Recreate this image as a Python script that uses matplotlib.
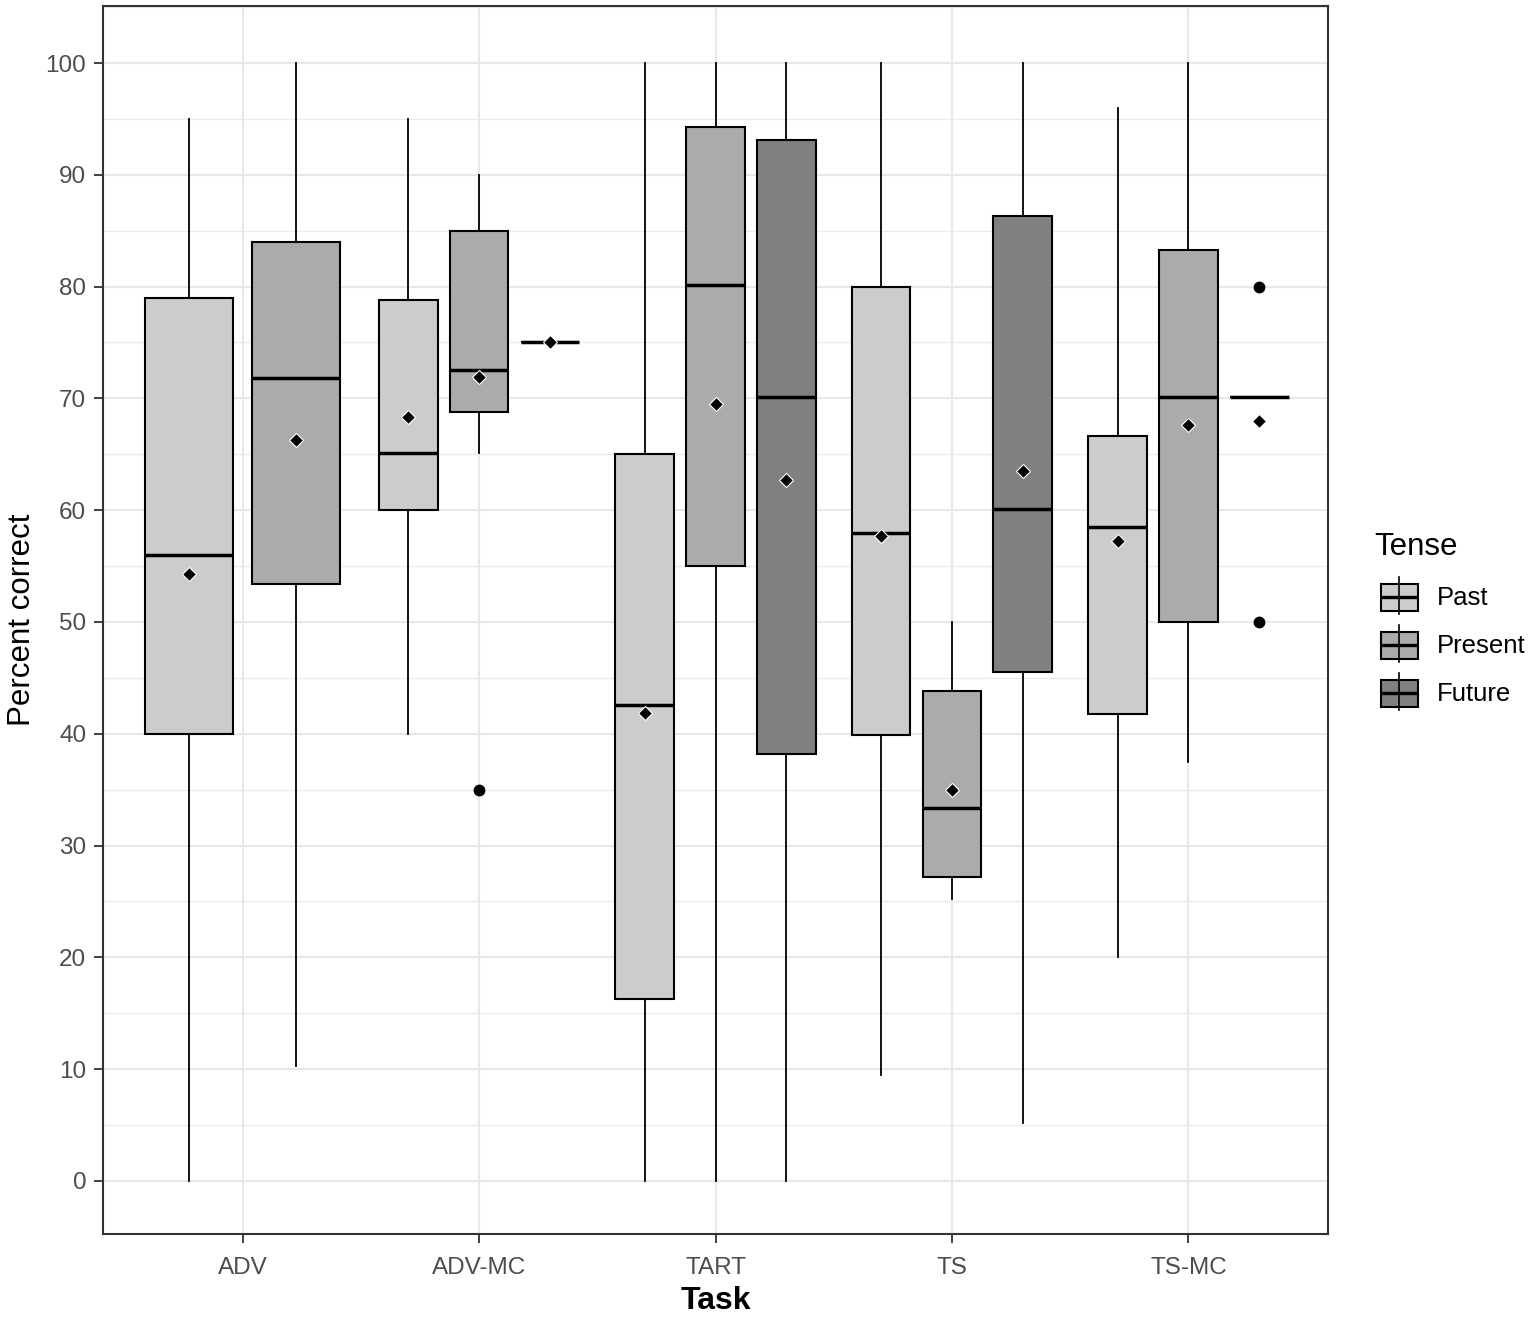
import matplotlib
matplotlib.use("Agg")
import matplotlib.pyplot as plt
from matplotlib.patches import Rectangle
from matplotlib.ticker import MultipleLocator

plt.rcParams['font.family'] = ['Liberation Sans', 'DejaVu Sans']

# ---------------- data ----------------
tasks = ["ADV", "ADV-MC", "TART", "TS", "TS-MC"]
tenses = ["Past", "Present", "Future"]
tense_colors = {"Past": "#CCCCCC", "Present": "#ABABAB", "Future": "#808080"}

grp_task = ["ADV", "ADV",
            "ADV-MC", "ADV-MC", "ADV-MC",
            "TART", "TART", "TART",
            "TS", "TS", "TS",
            "TS-MC", "TS-MC", "TS-MC"]
grp_tense = ["Past", "Present",
             "Past", "Present", "Future",
             "Past", "Present", "Future",
             "Past", "Present", "Future",
             "Past", "Present", "Future"]
whisk_lo = [0, 10.3, 40, 65.1, 75, 0, 0, 0, 9.5, 25.2, 5.2, 20, 37.5, 70.1]
q1 = [40, 53.4, 60, 68.75, 75, 16.3, 55, 38.2, 39.9, 27.2, 45.5, 41.8, 50, 70.1]
med = [56, 71.8, 65.1, 72.5, 75, 42.6, 80.1, 70.1, 58, 33.4, 60.1, 58.5, 70.1, 70.1]
q3 = [79, 84, 78.8, 85, 75, 65, 94.3, 93.1, 80, 43.8, 86.3, 66.6, 83.3, 70.1]
whisk_hi = [95, 100, 95, 90, 75, 100, 100, 100, 100, 50, 100, 96, 100, 70.1]
means = [54.3, 66.3, 68.3, 71.9, 75, 41.9, 69.5, 62.7, 57.7, 35, 63.5, 57.2, 67.6, 68]
outliers = [[], [], [], [35], [], [], [], [], [], [], [], [], [], [80, 50]]

y_ticks = list(range(0, 101, 10))

# ---------------- figure ----------------
W, H = 1535, 1318
fig = plt.figure(figsize=(W / 100, H / 100), dpi=100)
ax = fig.add_axes([103 / W, 1 - 1234 / H, (1328 - 103) / W, (1234 - 6) / H])

ax.set_xlim(0.41, 5.59)
ax.set_ylim(-4.75, 105.1)

# group positions (dodge)
for i in range(len(grp_task)):
    t = grp_task[i]
    members = [k for k in range(len(grp_task)) if grp_task[k] == t]
    n = len(members)
    k = members.index(i)
    xc = tasks.index(t) + 1
    step = 0.9 / n
    pos = xc + (k - (n - 1) / 2) * step
    width = step * 0.83
    stats = [dict(med=med[i], q1=q1[i], q3=q3[i], whislo=whisk_lo[i],
                  whishi=whisk_hi[i], mean=means[i], fliers=outliers[i])]
    ax.bxp(stats, positions=[pos], widths=[width], patch_artist=True,
           showcaps=False, showmeans=True, showfliers=True, manage_ticks=False,
           boxprops=dict(facecolor=tense_colors[grp_tense[i]], edgecolor='black', linewidth=1.5),
           medianprops=dict(color='black', linewidth=2.5, solid_capstyle='butt'),
           whiskerprops=dict(color='black', linewidth=1.3),
           flierprops=dict(marker='o', markerfacecolor='black', markeredgecolor='black',
                           markersize=7.5, linestyle='none'),
           meanprops=dict(marker='D', markerfacecolor='black', markeredgecolor='white',
                          markersize=7.5, markeredgewidth=0.8, linestyle='none'))

ax.set_xticks(range(1, len(tasks) + 1))
ax.set_xticklabels(tasks)
ax.set_yticks(y_ticks)
ax.yaxis.set_minor_locator(MultipleLocator(5))
ax.grid(True, which='major', color='#E8E8E8', linewidth=1.5)
ax.grid(True, which='minor', axis='y', color='#EBEBEB', linewidth=1.0)
ax.set_axisbelow(True)

for s in ax.spines.values():
    s.set_color('#333333')
    s.set_linewidth(1.5)
ax.tick_params(axis='both', which='major', length=6.5, width=1.3, color='#333333',
               labelcolor='#4D4D4D', labelsize=17.5)
ax.tick_params(axis='y', which='major', pad=5.5)
ax.tick_params(axis='x', which='major', pad=10)
ax.tick_params(axis='y', which='minor', length=0)

fig.text(715.5 / W, 1 - 1301 / H, 'Task', ha='center', va='center',
         fontsize=23, fontweight='bold', color='black')
fig.text(22 / W, 1 - 620 / H, 'Percent correct', ha='center', va='center',
         rotation=90, fontsize=22.5, color='black')

# ---------------- legend ----------------
lg = fig.add_axes([0, 0, 1, 1])
lg.set_xlim(0, W)
lg.set_ylim(H, 0)
lg.axis('off')
lg.patch.set_alpha(0)
lg.text(1374, 547, 'Tense', ha='left', va='center', fontsize=22.5, color='black')
for j, tn in enumerate(tenses):
    yc = 597 + j * 48
    lg.plot([1399.2, 1399.2], [yc - 20, yc + 17], color='black', linewidth=1.2)
    lg.add_patch(Rectangle((1381, yc - 13.5), 36.5, 27, facecolor=tense_colors[tn],
                           edgecolor='black', linewidth=1.5))
    lg.plot([1381, 1417.5], [yc, yc], color='black', linewidth=2.4, solid_capstyle='butt')
    lg.text(1437, yc + 1, tn, ha='left', va='center', fontsize=18.5, color='black')

fig.savefig('out.png', dpi=100)
